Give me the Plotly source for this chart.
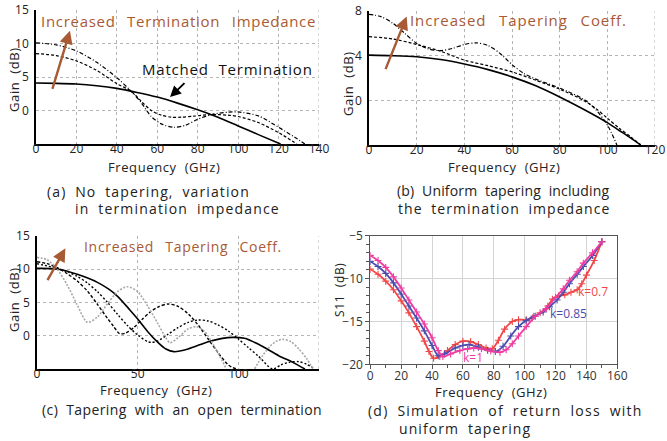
import plotly.graph_objects as go

W, H = 667, 441
def px(x): return x / W
def py(y): return 1 - y / H

# ---------------- Panel (a) data ----------------
a_x_matched = [0, 10, 20, 30, 40, 50, 60, 70, 80, 90, 100, 110, 121]
a_y_matched = [4.1, 4.05, 3.95, 3.7, 3.3, 2.7, 2.0, 1.1, 0.1, -1.0, -2.3, -3.6, -5.0]
a_x_mid = [0, 10, 20, 30, 40, 47, 52, 57, 62, 67, 72, 78, 87, 95, 100, 110, 120, 129]
a_y_mid = [8.5, 8.2, 7.4, 6.0, 4.0, 2.9, 1.4, 0.0, -0.7, -1.0, -1.0, -0.85, -0.6, -0.7, -0.9, -1.8, -3.3, -5.0]
a_x_high = [0, 10, 20, 30, 40, 47, 52, 57, 62, 68, 74, 80, 87, 95, 100, 110, 120, 128, 133]
a_y_high = [10.1, 9.8, 8.9, 7.2, 4.9, 2.9, 1.2, -0.9, -2.0, -2.5, -2.2, -1.3, -0.6, -0.25, -0.22, -0.8, -2.5, -4.0, -5.0]

# ---------------- Panel (b) data ----------------
b_x_solid = [0, 10, 20, 30, 40, 50, 60, 70, 80, 90, 100, 105, 110, 114]
b_y_solid = [4.05, 4.0, 3.9, 3.65, 3.25, 2.75, 2.1, 1.3, 0.3, -0.8, -2.0, -2.7, -3.4, -4.0]
b_x_mid = [0, 10, 20, 30, 40, 50, 60, 70, 80, 90, 95, 100, 105, 110, 114]
b_y_mid = [5.7, 5.5, 5.0, 4.4, 3.6, 3.1, 2.55, 1.8, 1.0, 0.0, -0.7, -1.6, -2.5, -3.3, -4.0]
b_x_high = [0, 5, 10, 15, 20, 25, 30, 35, 40, 45, 50, 55, 60, 65, 70, 80, 90, 95, 100, 104]
b_y_high = [7.7, 7.5, 6.9, 6.0, 5.1, 4.6, 4.45, 4.65, 5.0, 5.15, 4.9, 4.2, 3.2, 2.4, 1.9, 1.1, 0.1, -0.8, -2.2, -4.0]

# ---------------- Panel (c) data ----------------
c_x_solid = [0, 10, 20, 30, 36, 40, 46, 50, 55, 60, 64, 68, 75, 85, 92, 97, 103, 110, 120, 127, 133]
c_y_solid = [10.1, 10.0, 9.2, 8.0, 6.9, 5.9, 3.9, 2.5, 0.6, -1.0, -2.0, -2.4, -2.0, -0.9, -0.4, -0.25, -0.4, -1.3, -3.0, -4.0, -5.0]
c_x_dot = [0, 10, 15, 20, 25, 30, 35, 40, 45, 50, 55, 57, 60, 65, 70, 75, 80, 85, 90, 95, 100, 105, 110, 117, 121, 125, 130, 134, 138]
c_y_dot = [10.8, 10.1, 9.6, 8.9, 7.9, 6.6, 5.0, 3.2, 1.5, 0.1, -0.9, -1.0, -0.8, 0.2, 1.2, 2.0, 2.35, 2.2, 1.6, 0.7, -0.5, -1.8, -3.1, -5.0, -4.4, -4.0, -3.9, -4.3, -5.0]
c_x_dash = [0, 5, 10, 15, 20, 25, 30, 35, 38, 41, 44, 48, 52, 56, 60, 65, 70, 75, 80, 85, 90, 95, 99]
c_y_dash = [11.1, 10.8, 10.2, 9.3, 8.2, 6.7, 4.7, 2.6, 1.4, 0.3, 0.4, 1.2, 2.4, 3.5, 4.3, 4.75, 4.4, 3.3, 1.6, -0.5, -2.6, -4.4, -5.0]
c_x_gray = [0, 5, 10, 15, 20, 25, 30, 35, 40, 45, 50, 55, 60, 63, 66, 70, 75, 79, 83, 88, 92, 94, 101,
            108, 112, 116, 119, 122, 126, 130, 134, 137]
c_y_gray = [11.75, 11.4, 10.0, 7.6, 4.6, 2.0, 2.8, 4.8, 6.6, 7.35, 6.6, 4.4, 1.8, 0.2, -1.05, -0.3, 1.0, 1.35, 0.7, -1.6, -3.8, -5.0, None,
            -5.0, -3.0, -1.5, -0.8, -0.55, -0.9, -2.0, -3.5, -5.0]

# ---------------- Panel (d) data ----------------
d_x_k07 = [0, 5, 10, 15, 20, 25, 30, 35, 38, 41, 45, 50, 55, 60, 65, 70, 75, 79, 83, 87, 92, 96, 101, 105, 110, 115, 118, 122, 126, 130, 134, 137, 140, 145, 150]
d_y_k07 = [-8.9, -9.5, -10.3, -11.3, -12.6, -14.0, -15.6, -17.3, -18.5, -19.3, -19.1, -18.4, -17.7, -17.3, -17.35, -17.7, -18.1, -18.2, -17.2, -15.9, -15.0, -14.8, -14.8, -14.6, -14.0, -13.2, -12.4, -12.0, -11.9, -11.6, -11.3, -10.6, -9.6, -7.9, -5.7]
d_x_k085 = [0, 5, 10, 15, 20, 25, 30, 35, 40, 44, 48, 55, 60, 64, 70, 76, 81, 86, 91, 96, 101, 106, 112, 116, 121, 125, 129, 134, 138, 144, 150]
d_y_k085 = [-8.0, -8.6, -9.4, -10.5, -11.8, -13.2, -14.6, -16.1, -17.8, -19.0, -18.8, -18.1, -17.8, -17.7, -18.0, -18.35, -18.5, -17.9, -16.7, -15.6, -14.9, -14.4, -13.9, -13.3, -12.5, -11.6, -10.6, -9.5, -8.6, -7.3, -5.7]
d_x_k1 = [0, 5, 10, 15, 20, 25, 30, 35, 40, 44, 47, 52, 58, 63, 67, 72, 78, 84, 88, 92, 96, 101, 107, 114, 120, 125, 129, 134, 138, 144, 150]
d_y_k1 = [-7.3, -7.9, -8.7, -9.8, -11.1, -12.5, -13.9, -15.3, -16.9, -18.4, -19.1, -18.8, -18.4, -18.2, -18.1, -18.2, -18.45, -18.6, -18.3, -17.6, -16.7, -15.6, -14.4, -13.5, -12.2, -11.2, -10.2, -9.2, -8.2, -7.0, -5.7]

# tick settings
a_xticks = [0, 20, 40, 60, 80, 100, 120, 140]
a_yticks = [0, 5, 10, 15]
b_xticks = [0, 20, 40, 60, 80, 100, 120]
b_yticks = [0, 4, 8]
c_xticks = [0, 50, 100]
c_yticks = [0, 5, 10, 15]
d_xticks = [0, 20, 40, 60, 80, 100, 120, 140, 160]
d_yticks = [-5, -10, -15, -20]

BROWN = "#a85a34"
FONT = "Open Sans"
RED, BLUE, MAG = "#f04848", "#4c4cae", "#f03ca0"

fig = go.Figure()

def line(x, y, xa, ya, color="black", dash="solid", width=1.4):
    fig.add_trace(go.Scatter(x=x, y=y, xaxis=xa, yaxis=ya, mode="lines",
                             line=dict(color=color, dash=dash, width=width, shape="spline", smoothing=0.8),
                             connectgaps=False, showlegend=False, hoverinfo="skip"))

DASH = "3px,2px"
DASHDOT = "4px,2px,1px,2px"

line(a_x_matched, a_y_matched, "x", "y", width=1.6)
line(a_x_mid, a_y_mid, "x", "y", dash=DASH, width=1.2)
line(a_x_high, a_y_high, "x", "y", dash=DASHDOT, width=1.2)

line(b_x_solid, b_y_solid, "x2", "y2", width=1.6)
line(b_x_mid, b_y_mid, "x2", "y2", dash=DASH, width=1.2)
line(b_x_high, b_y_high, "x2", "y2", dash=DASHDOT, width=1.2)

line(c_x_solid, c_y_solid, "x3", "y3", width=1.6)
line(c_x_dot, c_y_dot, "x3", "y3", dash="2px,2px", width=1.4)
line(c_x_dash, c_y_dash, "x3", "y3", dash=DASH, width=1.4)
line(c_x_gray, c_y_gray, "x3", "y3", color="#a8a8a8", dash="2px,1.5px", width=1.6)

for xs, ys, col in [(d_x_k07, d_y_k07, RED), (d_x_k085, d_y_k085, BLUE), (d_x_k1, d_y_k1, MAG)]:
    fig.add_trace(go.Scatter(x=xs, y=ys, xaxis="x4", yaxis="y4", mode="lines+markers",
                             line=dict(color=col, width=1.8, shape="spline", smoothing=0.8),
                             marker=dict(symbol="cross-thin", size=5, line=dict(color=col, width=1.1)),
                             showlegend=False, hoverinfo="skip"))

tickfont = dict(family=FONT, size=12, color="#222")

def old_axes(xdom, ydom, xr, yr, xt, yt, anchor_x, anchor_y):
    xa = dict(domain=xdom, range=xr, tickvals=xt, showline=True, linecolor="black", linewidth=1.6,
              showgrid=True, gridcolor="#b4b4b4", griddash="dot", gridwidth=1, zeroline=False,
              ticks="", ticklen=0, tickfont=tickfont, anchor=anchor_y, fixedrange=True, ticklabelstandoff=-7,
              automargin=False)
    ya = dict(domain=ydom, range=yr, tickvals=yt, showline=True, linecolor="black", linewidth=1.6,
              showgrid=True, gridcolor="#b4b4b4", griddash="dot", gridwidth=1, zeroline=False,
              ticks="", ticklen=0, tickfont=tickfont, anchor=anchor_x, fixedrange=True, ticklabelstandoff=3,
              automargin=False)
    return xa, ya

xa1, ya1 = old_axes([px(36), px(319)], [py(144), py(10)], [0, 140], [-5, 15], a_xticks, a_yticks, "x", "y")
xa2, ya2 = old_axes([px(369), px(655)], [py(145), py(11)], [0, 120], [-4, 8], b_xticks, b_yticks, "x2", "y2")
xa3, ya3 = old_axes([px(37), px(319)], [py(369), py(235.7)], [0, 140], [-5, 15], c_xticks, c_yticks, "x3", "y3")

xa4 = dict(domain=[px(370.3), px(617.3)], range=[0, 160], tickvals=d_xticks, showline=True, mirror=True,
           linecolor="#555", linewidth=1, showgrid=True, gridcolor="#d4d4d4", zeroline=False,
           ticks="outside", ticklen=4, tickcolor="#555",
           minor=dict(dtick=10, ticks="outside", ticklen=3, tickcolor="#555", showgrid=False),
           tickfont=dict(family=FONT, size=12, color="#333"), anchor="y4", fixedrange=True, automargin=False,
           ticklabelstandoff=-4)
ya4 = dict(domain=[py(364.3), py(235.7)], range=[-20, -5], tickvals=d_yticks, showline=True, mirror=True,
           linecolor="#555", linewidth=1, showgrid=True, gridcolor="#d4d4d4", zeroline=False,
           ticks="outside", ticklen=4, tickcolor="#555",
           minor=dict(dtick=1, ticks="outside", ticklen=3, tickcolor="#555", showgrid=False),
           tickfont=dict(family=FONT, size=12, color="#333"), anchor="x4", fixedrange=True, automargin=False)

def sp(t, ls=0.6, ws=4):
    return f'<span style="letter-spacing:{ls}px;word-spacing:{ws}px">{t}</span>'

ann = []
def text(t, x, y, size=13, color="#222", xanchor="left", angle=0, ls=0.6, ws=4):
    ann.append(dict(text=sp(t, ls, ws), x=px(x), y=py(y), xref="paper", yref="paper", showarrow=False,
                    xanchor=xanchor, yanchor="middle", textangle=angle,
                    font=dict(family=FONT, size=size, color=color)))

# Axis titles
text("Frequency (GHz)", 164, 166.5, size=13, xanchor="center")
text("Frequency (GHz)", 504, 166.5, size=13, xanchor="center")
text("Frequency (GHz)", 156, 389.5, size=13, xanchor="center")
text("Frequency (GHz)", 491, 391.5, size=13, xanchor="center")
text("Gain (dB)", 14, 80, size=13, xanchor="center", angle=-90)
text("Gain (dB)", 348, 84, size=13, xanchor="center", angle=-90)
text("Gain (dB)", 14, 300, size=13, xanchor="center", angle=-90)
text("S11 (dB)", 339, 290, size=12, xanchor="center", angle=-90)

# Captions
text("(a) No tapering, variation", 45, 191, size=14, ls=1.13, ws=4)
text("in termination impedance", 73, 209, size=14, ls=1.17, ws=4)
text("(b) Uniform tapering including", 395, 190.5, size=14, ls=0.15, ws=4)
text("the termination impedance", 396, 209, size=14, ls=1.05, ws=4)
text("(c) Tapering with an open termination", 40, 409.5, size=14, ls=0.4, ws=4)
text("(d) Simulation of return loss with", 366, 410, size=14, ls=1.24, ws=4)
text("uniform tapering", 397, 428.5, size=14, ls=1.09, ws=4)

# In-plot texts
text("Increased Termination Impedance", 39, 21, size=15, color=BROWN, ls=0.7, ws=7)
text("Matched Termination", 140, 69, size=15, color="#111", ls=0.8, ws=5)
text("Increased Tapering Coeff.", 408, 20, size=15, color=BROWN, ls=0.9, ws=8)
text("Increased Tapering Coeff.", 82, 246.5, size=14, color=BROWN, ls=0.7, ws=7)
text("k=0.7", 593, 291, size=12, color=RED, xanchor="center", ls=0, ws=0)
text("k=0.85", 568, 313, size=12, color=BLUE, xanchor="center", ls=0, ws=0)
text("k=1", 473, 357, size=12, color=MAG, xanchor="center", ls=0, ws=0)

# Arrows
def arrow(xr, yr, x0, y0, x1, y1, color, width):
    ann.append(dict(x=x1, y=y1, ax=x0, ay=y0, xref=xr, yref=yr, axref=xr, ayref=yr, text="",
                    showarrow=True, arrowhead=2, arrowsize=1.1, arrowwidth=width, arrowcolor=color))

arrow("x", "y", 7.9, 3.0, 16.8, 11.9, BROWN, 2.4)
arrow("x", "y", 74.2, 4.3, 66.3, 2.0, "black", 2.0)
arrow("x2", "y2", 6.7, 2.66, 15.8, 7.5, BROWN, 2.4)
arrow("x3", "y3", 4.8, 8.1, 14.1, 13.1, BROWN, 2.4)

shapes = []
for xr, yr, xmax, ymin, ymax in [("x", "y", 140, -5, 15), ("x2", "y2", 120, -4, 8), ("x3", "y3", 140, -5, 15)]:
    shapes.append(dict(type="line", xref=xr, yref=yr, x0=xmax, x1=xmax, y0=ymin, y1=ymax,
                       line=dict(color="#b4b4b4", width=1, dash="dot"), layer="below"))

fig.update_layout(
    width=W, height=H, margin=dict(l=0, r=0, t=0, b=0, autoexpand=False),
    paper_bgcolor="white", plot_bgcolor="white",
    xaxis=xa1, yaxis=ya1, xaxis2=xa2, yaxis2=ya2, xaxis3=xa3, yaxis3=ya3, xaxis4=xa4, yaxis4=ya4,
    annotations=ann, shapes=shapes, showlegend=False,
)

fig.write_html("out.html", config={"displayModeBar": False})
